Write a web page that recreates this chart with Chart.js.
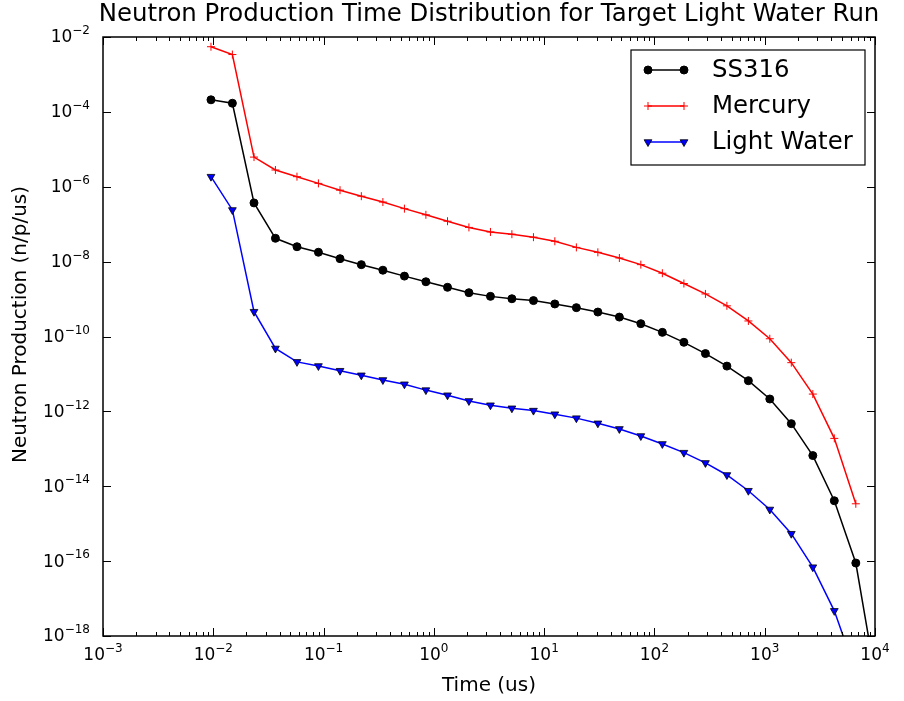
<!DOCTYPE html>
<html>
<head>
<meta charset="utf-8">
<script src="https://cdn.jsdelivr.net/npm/chart.js@4/dist/chart.umd.min.js"></script>
<style>
  body { margin: 0; background: #fff; }
  #wrap { width: 904px; height: 701px; }
</style>
</head>
<body>
<div id="wrap"><canvas id="myChart" width="904" height="701"></canvas></div>
<script>
// values (log-log)
const timeUs = [0.00953, 0.0149, 0.0234, 0.0366, 0.0574, 0.0898, 0.141, 0.220, 0.345, 0.541, 0.847,
    1.33, 2.08, 3.26, 5.10, 8.00, 12.5, 19.6, 30.7, 48.1, 75.3, 118, 185, 290, 454, 711,
    1112, 1742, 2730, 4276, 6700, 10500];

const ss316 = [2.1e-4, 1.7e-4, 3.7e-7, 4.2e-8, 2.5e-8, 1.78e-8, 1.2e-8, 8.3e-9, 5.9e-9, 4.1e-9, 2.9e-9,
    2.06e-9, 1.48e-9, 1.18e-9, 1.02e-9, 9.1e-10, 7.4e-10, 5.9e-10, 4.5e-10, 3.3e-10, 2.2e-10,
    1.29e-10, 7.0e-11, 3.5e-11, 1.62e-11, 6.6e-12, 2.14e-12, 4.7e-13, 6.6e-14, 4.1e-15, 8.9e-17, 4e-20];

const mercury = [5.5e-3, 3.4e-3, 6.2e-6, 2.8e-6, 1.86e-6, 1.23e-6, 8.1e-7, 5.6e-7, 3.9e-7, 2.6e-7, 1.78e-7,
    1.2e-7, 8.2e-8, 6.2e-8, 5.4e-8, 4.5e-8, 3.5e-8, 2.4e-8, 1.77e-8, 1.25e-8, 8.3e-9,
    4.9e-9, 2.6e-9, 1.37e-9, 6.6e-10, 2.6e-10, 8.7e-11, 2.0e-11, 2.9e-12, 1.9e-13, 3.4e-15];

const lightWater = [1.86e-6, 2.4e-7, 4.6e-10, 4.8e-11, 2.1e-11, 1.63e-11, 1.22e-11, 9.2e-12, 6.9e-12, 5.3e-12, 3.7e-12,
    2.7e-12, 1.9e-12, 1.46e-12, 1.21e-12, 1.05e-12, 8.4e-13, 6.6e-13, 4.8e-13, 3.4e-13, 2.2e-13,
    1.35e-13, 7.9e-14, 4.2e-14, 2.0e-14, 7.6e-15, 2.4e-15, 5.4e-16, 6.9e-17, 4.7e-18, 1.1e-19];

const seriesNames = ['SS316', 'Mercury', 'Light Water'];
const xTickExps = [-3, -2, -1, 0, 1, 2, 3, 4];
const yTickExps = [-18, -16, -14, -12, -10, -8, -6, -4, -2];

const titleText = 'Neutron Production Time Distribution for Target Light Water Run';
const xTitle = 'Time (us)';
const yTitle = 'Neutron Production (n/p/us)';

const FONT = '"DejaVu Sans", sans-serif';

function pts(arr) {
    return arr.map((v, i) => ({x: timeUs[i], y: v}));
}

// "10" with a raised exponent, like matplotlib mathtext
function drawPow(ctx, exp, x, y, align) {
    const base = '10';
    const sup = String(exp).replace('-', '\u2212');
    ctx.font = '17px ' + FONT;
    const wb = ctx.measureText(base).width;
    ctx.font = '12px ' + FONT;
    const ws = ctx.measureText(sup).width;
    const total = wb + ws;
    let x0 = align === 'right' ? x - total : x - total / 2;
    ctx.textAlign = 'left';
    ctx.textBaseline = 'middle';
    ctx.font = '17px ' + FONT;
    ctx.fillText(base, x0, y);
    ctx.font = '12px ' + FONT;
    ctx.fillText(sup, x0 + wb, y - 7);
}

const decorPlugin = {
    id: 'decor',
    afterDraw(chart) {
        const ctx = chart.ctx;
        const a = chart.chartArea;
        const xs = chart.scales.x, ys = chart.scales.y;
        ctx.save();
        ctx.fillStyle = '#000';
        ctx.strokeStyle = '#000';

        // ticks inside on all sides
        ctx.lineWidth = 1;
        ctx.beginPath();
        xTickExps.forEach(e => {
            const px = Math.round(xs.getPixelForValue(Math.pow(10, e))) + 0.5;
            ctx.moveTo(px, a.bottom); ctx.lineTo(px, a.bottom - 8);
            ctx.moveTo(px, a.top); ctx.lineTo(px, a.top + 8);
            if (e < 4) {
                for (let m = 2; m <= 9; m++) {
                    const mx = Math.round(xs.getPixelForValue(m * Math.pow(10, e))) + 0.5;
                    ctx.moveTo(mx, a.bottom); ctx.lineTo(mx, a.bottom - 4);
                    ctx.moveTo(mx, a.top); ctx.lineTo(mx, a.top + 4);
                }
            }
        });
        yTickExps.forEach(e => {
            const py = Math.round(ys.getPixelForValue(Math.pow(10, e))) + 0.5;
            ctx.moveTo(a.left, py); ctx.lineTo(a.left + 8, py);
            ctx.moveTo(a.right, py); ctx.lineTo(a.right - 8, py);
        });
        ctx.stroke();

        // frame
        ctx.lineWidth = 1.5;
        ctx.strokeRect(a.left, a.top, a.right - a.left, a.bottom - a.top);

        // tick labels
        xTickExps.forEach(e => {
            drawPow(ctx, e, xs.getPixelForValue(Math.pow(10, e)), a.bottom + 19.5, 'center');
        });
        yTickExps.forEach(e => {
            drawPow(ctx, e, a.left - 13, ys.getPixelForValue(Math.pow(10, e)) + 1, 'right');
        });

        // titles
        ctx.textAlign = 'center';
        ctx.textBaseline = 'middle';
        ctx.font = '24.4px ' + FONT;
        ctx.fillText(titleText, (a.left + a.right) / 2, 15);
        ctx.font = '20px ' + FONT;
        ctx.fillText(xTitle, (a.left + a.right) / 2, 686);
        ctx.save();
        ctx.translate(21, (a.top + a.bottom) / 2 - 12);
        ctx.rotate(-Math.PI / 2);
        ctx.fillText(yTitle, 0, 0);
        ctx.restore();

        // legend
        const lx = 631, ly = 50, lw = 234, lh = 115;
        ctx.fillStyle = '#fff';
        ctx.fillRect(lx, ly, lw, lh);
        ctx.lineWidth = 1.2;
        ctx.strokeRect(lx, ly, lw, lh);
        const rows = [70, 106, 142];
        chart.data.datasets.forEach((ds, i) => {
            const y = rows[i];
            ctx.strokeStyle = ds.borderColor;
            ctx.lineWidth = ds.borderWidth;
            ctx.beginPath();
            ctx.moveTo(648, y); ctx.lineTo(684, y);
            ctx.stroke();
            [648, 684].forEach(px => {
                ctx.fillStyle = ds.pointBackgroundColor;
                ctx.strokeStyle = ds.pointBorderColor;
                ctx.lineWidth = ds.pointBorderWidth;
                Chart.helpers.drawPoint(ctx, {
                    pointStyle: ds.pointStyle, radius: ds.pointRadius,
                    rotation: ds.pointRotation || 0, borderWidth: ds.pointBorderWidth
                }, px, y);
            });
            ctx.fillStyle = '#000';
            ctx.textAlign = 'left';
            ctx.textBaseline = 'middle';
            ctx.font = '24.4px ' + FONT;
            ctx.fillText(ds.label, 712, y + 1);
        });
        ctx.restore();
    }
};

const ctx = document.getElementById('myChart');
const myChart = new Chart(ctx, {
    type: 'line',
    data: {
        datasets: [
            {
                label: seriesNames[0],
                data: pts(ss316),
                borderColor: '#000000',
                borderWidth: 1.5,
                pointStyle: 'circle',
                pointRadius: 4,
                pointBackgroundColor: '#000000',
                pointBorderColor: '#000000',
                pointBorderWidth: 1,
                tension: 0
            },
            {
                label: seriesNames[1],
                data: pts(mercury),
                borderColor: '#ff0000',
                borderWidth: 1.5,
                pointStyle: 'cross',
                pointRadius: 4,
                pointBackgroundColor: '#ff0000',
                pointBorderColor: '#ff0000',
                pointBorderWidth: 1,
                tension: 0
            },
            {
                label: seriesNames[2],
                data: pts(lightWater),
                borderColor: '#0000ff',
                borderWidth: 1.5,
                pointStyle: 'triangle',
                pointRotation: 180,
                pointRadius: 4.5,
                pointBackgroundColor: '#0000ff',
                pointBorderColor: '#000000',
                pointBorderWidth: 0.8,
                tension: 0
            }
        ]
    },
    options: {
        responsive: false,
        animation: false,
        layout: { padding: { top: 37, right: 29, left: 0, bottom: 0 } },
        plugins: {
            legend: { display: false },
            title: { display: false },
            tooltip: { enabled: false }
        },
        scales: {
            x: {
                type: 'logarithmic',
                min: 1e-3,
                max: 1e4,
                grid: { display: false },
                border: { display: false },
                ticks: { display: false },
                afterFit: s => { s.height = 65; }
            },
            y: {
                type: 'logarithmic',
                min: 1e-18,
                max: 1e-2,
                grid: { display: false },
                border: { display: false },
                ticks: { display: false },
                afterFit: s => { s.width = 103; }
            }
        }
    },
    plugins: [decorPlugin]
});
</script>
</body>
</html>
